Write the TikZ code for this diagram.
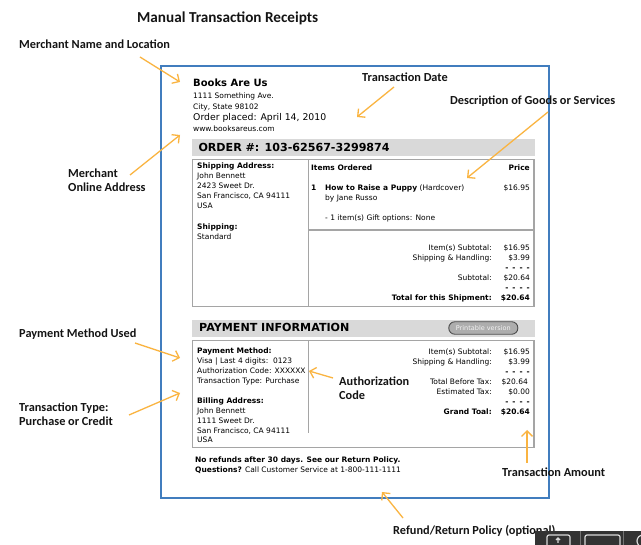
\documentclass[tikz,border=0pt]{standalone}
\usepackage{fontspec}
\setmainfont{Carlito}
\newfontfamily\vfont{DejaVu Sans}
\usetikzlibrary{arrows.meta}
\definecolor{arrcol}{RGB}{250,180,65}
\definecolor{frameblue}{RGB}{65,125,190}
\definecolor{bargray}{RGB}{217,217,217}
\definecolor{boxgray}{RGB}{165,165,165}
\definecolor{inkcol}{RGB}{20,20,20}
\begin{document}
\begin{tikzpicture}[x=1pt,y=-1pt,
  ann/.style={font=\bfseries\fontsize{12.3}{14}\selectfont, text=inkcol, inner sep=0, anchor=base west},
  callout/.style={draw=arrcol, line width=1.3pt, -{Straight Barb[length=5.5pt,width=11pt,line width=1.3pt]}},
  rt/.style={font=\vfont\fontsize{7.5}{9}\selectfont, inner sep=0, anchor=base west},
  rtb/.style={rt, font=\vfont\bfseries\fontsize{7.5}{9}\selectfont},
  re/.style={rt, anchor=base east},
  reb/.style={rtb, anchor=base east},
  gbox/.style={draw=boxgray, line width=1.2pt},
  barhead/.style={inner sep=0, anchor=base west}
]
\useasboundingbox (0,0) rectangle (641,545);
\fill[white] (0,0) rectangle (641,545);

% title
\node[font=\bfseries\fontsize{15.2}{18}\selectfont, text=inkcol, inner sep=0, anchor=base west] (title) at (137,22.5) {Manual Transaction Receipts};

% receipt frame
\draw[frameblue, line width=1.4pt] (161,66) rectangle (549,498);

% header
\node[barhead, font=\vfont\bfseries\fontsize{10}{12}\selectfont] (bau) at (193,86.7) {Books Are Us};
\node[rt] (adr1) at (193,98.3) {1111 Something Ave.};
\node[rt] (adr2) at (193,109.3) {City, State 98102};
\node[rt, font=\vfont\fontsize{9.3}{11}\selectfont] (op) at (193,121) {Order placed: April 14, 2010};
\node[rt] (www) at (193,131.7) {www.booksareus.com};

% order bar
\fill[bargray] (192,139) rectangle (535,156);
\node[barhead, font=\vfont\bfseries\fontsize{11.1}{13}\selectfont] (ord) at (198.3,151.5) {ORDER \#: 103-62567-3299874};

% order box
\draw[gbox] (192.3,159.3) rectangle (534,306.7);
\draw[gbox] (308.3,159.3) -- (308.3,306.7);
\draw[gbox] (308.3,230) -- (534,230);

\node[rtb] (sa) at (197,169) {Shipping Address:};
\node[rt] (sa1) at (197,179) {John Bennett};
\node[rt] (sa2) at (197,189) {2423 Sweet Dr.};
\node[rt] (sa3) at (197,199) {San Francisco, CA 94111};
\node[rt] (sa4) at (197,209) {USA};
\node[rtb] (sh) at (197,229.5) {Shipping:};
\node[rt] (sh1) at (197,240) {Standard};

\node[rtb] (io) at (311,171) {Items Ordered};
\node[reb] (pr) at (530,171) {Price};
\node[rtb] (n1) at (311,191) {1};
\node[rt] (it) at (325,191) {\textbf{How to Raise a Puppy} (Hardcover)};
\node[re] (p1) at (530,191) {\$16.95};
\node[rt] (by) at (325,201) {by Jane Russo};
\node[rt] (gift) at (325,221) {- 1 item(s) Gift options: None};

\node[re] (l1) at (492,251) {Item(s) Subtotal:};
\node[re] (v1) at (530,251) {\$16.95};
\node[re] (l2) at (492,261) {Shipping \& Handling:};
\node[re] (v2) at (530,261) {\$3.99};
\node[reb] (d1) at (530,271) {-\hspace{4pt}-\hspace{4pt}-\hspace{4pt}-};
\node[re] (l3) at (492,281) {Subtotal:};
\node[re] (v3) at (530,281) {\$20.64};
\node[reb] (d2) at (530,291) {-\hspace{4pt}-\hspace{4pt}-\hspace{4pt}-};
\node[reb] (l4) at (492,301) {Total for this Shipment:};
\node[reb] (v4) at (530,301) {\$20.64};

% payment bar
\fill[bargray] (192,320) rectangle (535,336.7);
\node[barhead, font=\vfont\bfseries\fontsize{11.1}{13}\selectfont] (pay) at (199,332) {PAYMENT INFORMATION};
\node[draw=black!70, fill=black!32, rounded corners=6pt, line width=0.9pt, minimum width=69pt, minimum height=12.5pt, inner sep=0, text=white!95!black, font=\vfont\fontsize{6.5}{7}\selectfont] (pv) at (483.3,328) {Printable version};

% payment box
\draw[gbox] (192.3,340.7) rectangle (534,447.3);
\draw[gbox] (308.3,340.7) -- (308.3,433);

\node[rtb] (pm) at (197,353.3) {Payment Method:};
\node[rt] (pm1) at (197,363.3) {Visa | Last 4 digits:\ \ 0123};
\node[rt] (pm2) at (197,373.3) {Authorization Code: XXXXXX};
\node[rt] (pm3) at (197,383.3) {Transaction Type: Purchase};
\node[rtb] (ba) at (197,403.3) {Billing Address:};
\node[rt] (ba1) at (197,413.3) {John Bennett};
\node[rt] (ba2) at (197,423.3) {1111 Sweet Dr.};
\node[rt] (ba3) at (197,433.3) {San Francisco, CA 94111};
\node[rt] (ba4) at (197,443) {USA};

\node[re] (l5) at (492,354.3) {Item(s) Subtotal:};
\node[re] (v5) at (530,354.3) {\$16.95};
\node[re] (l6) at (492,364.3) {Shipping \& Handling:};
\node[re] (v6) at (530,364.3) {\$3.99};
\node[reb] (d3) at (530,374.3) {-\hspace{4pt}-\hspace{4pt}-\hspace{4pt}-};
\node[re] (l7) at (492,384.3) {Total Before Tax:};
\node[re] (v7) at (528,384.3) {\$20.64};
\node[re] (l8) at (492,394.3) {Estimated Tax:};
\node[re] (v8) at (530,394.3) {\$0.00};
\node[reb] (d4) at (530,404.3) {-\hspace{4pt}-\hspace{4pt}-\hspace{4pt}-};
\node[reb] (l9) at (492,414.3) {Grand Toal:};
\node[reb] (v9) at (530,414.3) {\$20.64};

\node[rtb] (nr) at (195,462.7) {No refunds after 30 days. See our Return Policy.};
\node[rt] (qs) at (195,472.7) {\textbf{Questions?} Call Customer Service at 1-800-111-1111};

% annotations
\node[ann] (mnl) at (19,48.7) {Merchant Name and Location};
\node[ann] (moa1) at (68,177.5) {Merchant};
\node[ann] (moa2) at (68,191.5) {Online Address};
\node[ann] (td) at (362,81.7) {Transaction Date};
\node[ann] (dgs) at (450,104.7) {Description of Goods or Services};
\node[ann] (pmu) at (19,337.7) {Payment Method Used};
\node[ann] (tt1) at (19,411.5) {Transaction Type:};
\node[ann] (tt2) at (19,425.5) {Purchase or Credit};
\node[ann] (ac1) at (339,386) {Authorization};
\node[ann] (ac2) at (339,400) {Code};
\node[ann] (ta) at (502,477) {Transaction Amount};
\node[ann] (rrp) at (393,535) {Refund/Return Policy (optional)};

% callout arrows
\coordinate (a1s) at (140,57);   \coordinate (a1e) at (180,82);
\coordinate (a2s) at (130,175);  \coordinate (a2e) at (180,135);
\coordinate (a3s) at (394,87);   \coordinate (a3e) at (357,117);
\coordinate (a4s) at (548,112);  \coordinate (a4e) at (467,178);
\coordinate (a5s) at (135,343);  \coordinate (a5e) at (180,358);
\coordinate (a6s) at (129,415);  \coordinate (a6e) at (180,393);
\coordinate (a7s) at (333,378);  \coordinate (a7e) at (309,371);
\coordinate (a8s) at (527,463);  \coordinate (a8e) at (527,430);
\coordinate (a9s) at (403,518);  \coordinate (a9e) at (382,492);
\draw[callout] (a1s) -- (a1e);
\draw[callout] (a2s) -- (a2e);
\draw[callout] (a3s) -- (a3e);
\draw[callout] (a4s) -- (a4e);
\draw[callout] (a5s) -- (a5e);
\draw[callout] (a6s) -- (a6e);
\draw[callout] (a7s) -- (a7e);
\draw[callout] (a8s) -- (a8e);
\draw[callout] (a9s) -- (a9e);

% toolbar fragment at lower right
\fill[black!80] (535,531) rectangle (641,545);
\draw[black!55, line width=0.8pt] (580,531) -- (580,545) (623,531) -- (623,545);
\draw[white!85!black, line width=1.2pt, rounded corners=2pt] (547,535) rectangle (570,548);
\draw[white!85!black, line width=1.2pt, rounded corners=2pt] (585,535) rectangle (620,548);
\draw[white!85!black, line width=1.2pt] (558,543) -- (558,538) (556,540) -- (558,538) -- (560,540);
\draw[white!85!black, line width=1.2pt] (643,541) circle (6);
\end{tikzpicture}
\end{document}
